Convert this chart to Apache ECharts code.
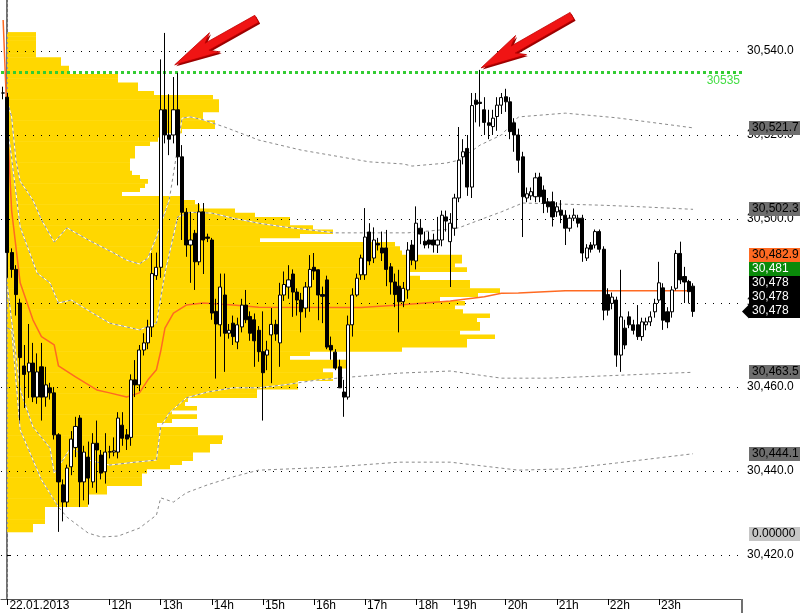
<!DOCTYPE html>
<html><head><meta charset="utf-8">
<script src="https://cdn.jsdelivr.net/npm/echarts@6/dist/echarts.min.js"></script>
<style>html,body{margin:0;padding:0;background:#fff}#c{width:800px;height:613px}</style>
</head><body><div id="c"></div>
<script>
// ---------- DATA ----------
// session structure (hour, number of 5-minute bars shown)
const sessionHours = [[10,12],[11,12],[12,12],[13,12],[14,12],[15,12],[16,12],[17,12],[18,9],[19,12],[20,12],[21,12],[22,12],[23,12],[0,8]];
const firstBarLabel = '09:55';
// x axis tick labels (category -> text)
const xTickCategories = ['10:00','12:00','13:00','14:00','15:00','16:00','17:00','18:00','19:00','20:00','21:00','22:00','23:00'];
const xTickLabels     = ['22.01.2013','12h','13h','14h','15h','16h','17h','18h','19h','20h','21h','22h','23h'];
// y axis tick values
const yTickValues = [30420, 30440, 30460, 30480, 30500, 30520, 30540];
const yMin = 30409.52, yMax = 30552.14;

// candles: [open, close, low, high]
const candles = [
[30530,30530,30528.5,30531.5],[30529,30492,30486,30530],[30492,30488,30486,30493],[30488,30482,30477,30489],
[30480,30467,30452,30481],[30465,30463,30455,30470],[30463.6,30465.7,30457.4,30475],[30465.7,30457.6,30456.4,30470.5],
[30457.6,30463.6,30456,30468],[30464.8,30457.6,30452,30470.5],[30457.6,30460.5,30455.3,30464.8],[30459.8,30458.6,30457,30461],
[30458.6,30448.6,30447.5,30460],[30448.6,30437.4,30425.5,30449],[30436.7,30432.6,30428,30438],[30432.6,30440.7,30431.4,30441.5],
[30441,30447.6,30439,30449.5],[30445.6,30450.6,30443.3,30452.9],[30452.6,30437.4,30431.4,30453.3],[30437.4,30444.5,30433,30446],
[30443.3,30438.3,30432,30447],[30437.4,30446.6,30436,30449],[30446.6,30445,30434.8,30452],[30443.8,30439.5,30438,30445],
[30439.8,30444.5,30437,30449],[30444.5,30444.6,30443,30446],[30444.5,30444.8,30443.5,30448],[30444.5,30452.6,30443,30454],
[30450.9,30447.8,30446,30454],[30448.6,30447.6,30445,30450],[30448,30461.7,30446,30463],[30461.7,30460.5,30457.6,30466.4],
[30460.5,30468.8,30459,30470],[30468.8,30470.5,30467.5,30472.8],[30470.5,30474.3,30469,30476],[30474.3,30487,30471.9,30491.9],
[30486.5,30488.5,30485.5,30492],[30488.5,30526,30486,30538],[30526,30520,30518,30544.3],[30520,30519,30515.2,30529.7],
[30520,30526,30518,30533.8],[30526,30514.8,30508,30534.8],[30514.8,30501.6,30495,30517.6],[30501.6,30493.8,30491,30502.6],
[30493.8,30495,30484.8,30501.7],[30496.6,30489.8,30483.1,30497.4],[30489.8,30501.7,30489,30503.8],[30501.7,30495,30486.9,30503.8],
[30495.7,30495.4,30494.5,30496.5],[30495,30477.6,30476,30495.5],[30478,30475,30462,30481],[30474.8,30483.8,30472,30487],
[30481.9,30472.8,30463.6,30487],[30472.8,30473.5,30471.5,30475],[30475.2,30472,30470,30477],[30470.7,30474.8,30469,30476.5],
[30474.3,30479.5,30473,30481],[30479.5,30476,30475.2,30483.1],[30476.8,30472.8,30471,30478],[30476,30471,30464.8,30477.5],
[30473.5,30468.4,30466,30474.5],[30468.4,30463.4,30452,30478],[30467.6,30468.8,30464,30471],[30472.4,30474.9,30460.9,30478.8],
[30474.9,30472.6,30471,30476],[30470.5,30481.9,30464.8,30484.8],[30481.9,30484.4,30480.5,30487.5],[30483.8,30485.5,30481,30489],
[30486.9,30482.6,30476.7,30488],[30482.6,30480.7,30477,30483.5],[30480.7,30477.9,30473,30482.4],[30478.8,30483.8,30476.5,30485],
[30483.8,30488,30477.9,30491.4],[30488.5,30487.6,30485.5,30491.9],[30487.9,30481.9,30475.9,30488],[30482,30481.6,30475.2,30483.9],
[30485.5,30469.5,30469,30486.5],[30469.9,30468.8,30466.5,30472],[30468.3,30464.5,30464,30469],[30464.8,30459.8,30459.8,30466.5],
[30458.8,30457.6,30452.9,30461.7],[30457.6,30474.8,30457,30477],[30474.8,30481.9,30472,30483.5],[30481.9,30485.9,30481.5,30487],
[30486.7,30490.7,30485.5,30491.5],[30486.7,30495.7,30485.5,30502.6],[30496.9,30490,30489,30499],[30490.7,30495,30489.5,30498],
[30494.2,30493.8,30492.5,30495.5],[30493.1,30491.9,30490,30497],[30493.1,30488,30484,30497.4],[30488.6,30485,30482,30489.5],
[30485,30482,30479,30487],[30484,30480.3,30473,30487.9],[30480.3,30483.5,30479,30485],[30483.1,30492.6,30481,30494.5],
[30493.8,30490.2,30489,30495],[30490,30499,30488,30503],[30497.8,30496.4,30494,30500],[30494.7,30493.8,30493,30497],
[30495,30494,30493,30497],[30495,30493.8,30492,30496.5],[30493.8,30495,30491.9,30500.5],[30495,30500.9,30493.5,30502],
[30500.5,30499.5,30497,30502],[30494.6,30499,30483.8,30501.4],[30497.8,30505,30496,30506],[30505,30514,30504,30521.9],
[30514.8,30516,30513,30519],[30516.8,30507.6,30505.5,30520],[30507.6,30527,30505,30530],[30528.3,30527.3,30523,30530],
[30527.8,30527.5,30522,30535.5],[30526,30523,30520,30529],[30522.9,30522.3,30519,30526],[30522,30524,30520,30526],
[30524.4,30527.1,30521,30529],[30527.1,30528.9,30525,30530],[30529.1,30527.9,30525.5,30531],[30527.9,30520.8,30519,30529],
[30522.9,30520,30516,30524],[30520,30514,30511,30521.5],[30514.8,30505.3,30495.7,30516],[30505,30506,30504,30507.5],
[30505.5,30506.5,30504.5,30507.5],[30505.3,30509.8,30504,30511],[30510,30505.3,30504,30511],[30506.9,30503.7,30501.4,30508],
[30504.1,30502.9,30501.5,30505],[30504.1,30500.5,30498.2,30506.5],[30501.7,30502.9,30500.5,30504],[30502.1,30500.9,30499,30504.5],
[30500.9,30497.8,30493.8,30502.1],[30497.8,30500.2,30497,30501],[30500.2,30500.9,30499.5,30502.5],[30500.2,30499,30498,30501],
[30500.2,30491.9,30489.8,30501],[30490.7,30493.1,30490,30494],[30493.8,30492.8,30492,30494.5],[30493.8,30497,30493,30497.5],
[30497,30492.8,30492,30497.5],[30492.8,30478.3,30475.9,30493.5],[30482,30478.3,30477,30483.5],[30479.9,30481.4,30478.5,30482.5],
[30480.7,30467.6,30464.8,30481.5],[30467.6,30476.7,30463.6,30487.9],[30474,30470,30469,30476],[30476.7,30474.8,30474,30478],
[30474.8,30473.5,30472.5,30476],[30474.8,30472,30471.2,30479.5],[30472,30475.5,30471,30476.5],[30474.8,30475.5,30473.5,30476.5],
[30475.5,30476.7,30474.5,30478],[30477.9,30479.9,30476.5,30481],[30480.7,30484.8,30480,30489.8],[30483.6,30475.9,30473.6,30484.7],
[30477.9,30475.5,30474,30479],[30477.9,30483.1,30476.5,30484],[30483.5,30491.8,30483,30492.6],[30491.8,30485.5,30484.5,30494.6],
[30486.3,30485,30480,30488.6],[30485.1,30482.7,30479.9,30485.5],[30484,30478,30476.7,30484.7]
];

// VWAP and deviation bands: [bar index, price]
const vwapPoints = [[0,30547.4],[1,30522],[2,30502],[4,30484.8],[7,30476],[9,30472],[12,30470],[13,30465],[17,30462.4],[22,30459.3],[25,30458.6],[29,30457.6],[32,30458.6],[34,30461.7],[36,30464.1],[37,30468.5],[38,30474],[40,30477.6],[43,30479.5],[47,30480],[54,30479.5],[60,30479],[84,30478.9],[93,30479.5],[105,30480.5],[113,30481.5],[117,30482.3],[121,30482.4],[132,30482.9],[162,30482.9]];
const upper2Points = [[1,30528],[2,30524.3],[3,30514],[4,30509],[7,30504.5],[9,30499.8],[12,30494.5],[15,30497.9],[20,30495],[26,30491.9],[29,30490.2],[32,30489.3],[34,30490.7],[36,30495.7],[39,30504.5],[41,30517.1],[42,30524],[44,30524.3],[47,30523.6],[52,30521.9],[60,30518.8],[70,30516.4],[86,30513.6],[94,30513.1],[96,30512.6],[104,30513.3],[107,30514],[112,30517.6],[117,30520],[121,30524.3],[132,30525.2],[144,30524.1],[162,30521.7]];
const upper1Points = [[1,30522],[2,30514.5],[4,30498.1],[8,30487.1],[11,30484.8],[13,30480],[16,30480.7],[21,30477.6],[25,30475.2],[29,30474.3],[32,30473.6],[36,30475.2],[38,30487.1],[41,30500.5],[44,30501.6],[49,30501.4],[54,30500.2],[60,30499],[66,30498.1],[78,30496.7],[95,30496.7],[105,30497.6],[107,30497.9],[113,30500.2],[117,30501.7],[122,30503.8],[140,30503.3],[150,30502.9],[162,30502.3]];
const lower1Points = [[1,30484],[4,30459.3],[7,30450.5],[11,30445.5],[12,30439.5],[16,30445.7],[20,30442.6],[25,30441.4],[31,30442.1],[36,30442.6],[37,30450.5],[39,30453.8],[43,30457.4],[48,30458.8],[54,30459.8],[60,30459.8],[66,30460.5],[74,30461.7],[82,30462.4],[93,30463.3],[105,30463.8],[117,30462.1],[128,30462.1],[162,30463.5]];
const lower2Points = [[1,30474],[2,30473.6],[4,30449.8],[9,30437.9],[13,30431.4],[15,30429],[20,30425.2],[23,30424.3],[27,30424.5],[32,30426.4],[36,30429.5],[37,30433.6],[40,30432.6],[43,30434.8],[48,30436.7],[54,30438.6],[60,30440.2],[77,30440.9],[93,30442.1],[105,30442.1],[121,30440.2],[132,30440.5],[144,30441.9],[162,30444.1]];

// volume profile: one value per 1-point price level, from profileTopPrice downward
const profileTopPrice = 30544;
const profileVolume = [29,29,29,29,29,29,54,54,62,62,111,111,131,131,147,206,212,212,212,196,196,208,208,175,153,151,143,128,128,128,123,123,123,125,133,141,138,133,115,173,188,193,228,248,283,283,306,326,293,253,388,393,395,455,455,448,460,403,413,463,463,493,471,433,458,448,456,483,470,473,473,453,488,460,460,395,303,283,340,340,316,326,326,291,291,250,250,181,178,190,165,190,165,150,191,191,216,215,203,203,186,186,175,163,140,135,135,135,100,100,81,81,81,38,38,38,38,26,26];

// reference level
const keyLevel = 30535;
// right-hand price tags
const bandTags = [
  {value: 30521.7, text: '30,521.7', bg: '#6e6e6e', fg: '#000'},
  {value: 30502.3, text: '30,502.3', bg: '#6e6e6e', fg: '#000'},
  {value: 30463.5, text: '30,463.5', bg: '#6e6e6e', fg: '#000'},
  {value: 30444.1, text: '30,444.1', bg: '#6e6e6e', fg: '#000'},
  {value: 30425.0, text: '0.00000', bg: '#c6c6c6', fg: '#000'}
];
const lastPrice = 30478;
const stackedTags = [ // from the last price upward
  {text: '30,478', bg: '#000', fg: '#fff', pointer: true},
  {text: '30,478', bg: '#000', fg: '#fff'},
  {text: '30,478', bg: '#000', fg: '#fff'},
  {text: '30,481', bg: '#0a8a0a', fg: '#fff'},
  {text: '30,482.9', bg: '#ff6a22', fg: '#000'}
];
// arrows point at these bars' highs
const arrowBars = [41, 112];

// ---------- BUILD ----------
const categories = [firstBarLabel];
sessionHours.forEach(([h, n]) => { for (let k = 0; k < n; k++) categories.push(String(h).padStart(2,'0') + ':' + String(k*5).padStart(2,'0')); });
const xLabelMap = {}; xTickCategories.forEach((c, i) => xLabelMap[c] = xTickLabels[i]);
const isTick = (idx, val) => xLabelMap[val] !== undefined;
const profileData = profileVolume.map((v, k) => [v, profileTopPrice - k]);
const fmt1 = v => Number(v).toLocaleString('en-US', {minimumFractionDigits: 1, maximumFractionDigits: 1});
const FONT = 'Liberation Sans, Arial, sans-serif';

function bandSeries(pts) {
  return [
    {type: 'line', data: pts, symbol: 'none', silent: true, z: 3, lineStyle: {color: '#ffffff', width: 1}},
    {type: 'line', data: pts, symbol: 'none', silent: true, z: 3, lineStyle: {color: '#8a8a8a', width: 1, type: [3, 3]}}
  ];
}

const chart = echarts.init(document.getElementById('c'), null, {renderer: 'canvas'});
const option = {
  animation: false,
  backgroundColor: '#ffffff',
  textStyle: {fontFamily: FONT},
  grid: {left: 1, right: 58, top: 0, bottom: 14},
  xAxis: [
    {type: 'category', data: categories, boundaryGap: true,
     axisLine: {show: true, onZero: false, lineStyle: {color: '#555', width: 1}},
     axisTick: {show: true, interval: isTick, alignWithLabel: true, length: 6, lineStyle: {color: '#000'}},
     axisLabel: {show: true, interval: isTick, formatter: v => xLabelMap[v] || '', align: 'left', margin: 1,
                 padding: [0, 0, 0, 2], color: '#000', fontSize: 12, fontFamily: FONT, hideOverlap: false},
     splitLine: {show: false}},
    {type: 'value', min: -6, max: 735, show: false}
  ],
  yAxis: {type: 'value', position: 'right', min: yMin, max: yMax, scale: true,
    axisLine: {show: true, lineStyle: {color: '#707070', width: 2}},
    axisTick: {show: true, customValues: yTickValues, length: 4, lineStyle: {color: '#000'}},
    axisLabel: {show: true, customValues: yTickValues, formatter: fmt1, color: '#000', fontSize: 12, fontFamily: FONT, margin: 5},
    splitLine: {show: false}},
  series: [
    {type: 'custom', name: 'profile', xAxisIndex: 1, yAxisIndex: 0, data: profileData, z: 1, silent: true,
     encode: {x: 0, y: 1},
     renderItem: (params, api) => {
       const v = api.value(0), p = api.value(1);
       const a = api.coord([0, p + 0.5]);
       const b = api.coord([v, p - 0.5]);
       return {type: 'rect', shape: {x: a[0], y: a[1], width: b[0] - a[0], height: b[1] - a[1] + 0.4}, style: {fill: '#FFD700'}};
     }},
    {type: 'line', name: 'levels', data: [], z: 2, silent: true,
     markLine: {silent: true, symbol: ['none', 'none'], animation: false,
       data: [
         ...yTickValues.map(v => ({yAxis: v, lineStyle: {color: '#000', type: [1, 7], width: 1}, label: {show: false}})),
         {xAxis: '10:00', lineStyle: {color: '#999', type: [2, 3], width: 1}, label: {show: false}},
         {yAxis: keyLevel, lineStyle: {color: '#33cc33', type: [3, 3], width: 3},
          label: {show: true, formatter: String(keyLevel), position: 'insideEndBottom', color: '#44dd44', fontSize: 12, fontFamily: FONT, distance: [2, 3]}}
       ]}},
    ...bandSeries(upper2Points), ...bandSeries(upper1Points), ...bandSeries(lower1Points), ...bandSeries(lower2Points),
    {type: 'line', name: 'vwap', data: vwapPoints, symbol: 'none', silent: true, z: 4, lineStyle: {color: '#ff6a22', width: 1.5}},
    {type: 'candlestick', name: 'price', data: candles, barWidth: 3.6, z: 6, silent: true,
     itemStyle: {color: '#ffffff', color0: '#000000', borderColor: '#000000', borderColor0: '#000000', borderWidth: 1}}
  ]
};
chart.setOption(option);

// ---------- annotations anchored to the scales ----------
const candleSeriesIndex = option.series.length - 1;
const g = [];
const yBottom = chart.convertToPixel({yAxisIndex: 0}, yMin);
g.push({type: 'line', z: 100, shape: {x1: 742, y1: yBottom, x2: 742, y2: 613}, style: {stroke: '#707070', lineWidth: 2}});
function tag(y, t) {
  g.push({type: 'rect', z: 101, shape: {x: 749, y: Math.round(y) - 7, width: 51, height: 14}, style: {fill: t.bg}});
  g.push({type: 'text', z: 102, style: {text: t.text, x: 752, y: Math.round(y), fill: t.fg, font: '12px ' + FONT, verticalAlign: 'middle', align: 'left'}});
  if (t.pointer) g.push({type: 'polygon', z: 101, shape: {points: [[742, y], [749, y - 7], [749, y + 7]]}, style: {fill: t.bg}});
}
bandTags.forEach(t => tag(chart.convertToPixel({yAxisIndex: 0}, t.value), t));
const yLast = chart.convertToPixel({yAxisIndex: 0}, lastPrice);
stackedTags.forEach((t, k) => tag(yLast - 14 * k, t));

function arrowPoly(tip, tail, headLen, headHalf, shaftHalf) {
  const dx = tail[0] - tip[0], dy = tail[1] - tip[1], L = Math.hypot(dx, dy);
  const ux = dx / L, uy = dy / L, nx = -uy, ny = ux;
  const bx = tip[0] + ux * headLen, by = tip[1] + uy * headLen;
  const cx = tip[0] + ux * (headLen - 9), cy = tip[1] + uy * (headLen - 9);
  return [tip, [bx + nx * headHalf, by + ny * headHalf], [cx + nx * shaftHalf, cy + ny * shaftHalf],
          [tail[0] + nx * shaftHalf, tail[1] + ny * shaftHalf], [tail[0] - nx * shaftHalf, tail[1] - ny * shaftHalf],
          [cx - nx * shaftHalf, cy - ny * shaftHalf], [bx - nx * headHalf, by - ny * headHalf]];
}
const arrowGeom = [{dx: -3, dy: -8, tx: 82, ty: -46}, {dx: 1, dy: -2, tx: 91, ty: -52}];
arrowBars.forEach((bi, k) => {
  const p = chart.convertToPixel({seriesIndex: candleSeriesIndex}, [bi, candles[bi][3]]);
  const a = arrowGeom[k];
  const tip = [p[0] + a.dx, p[1] + a.dy];
  const tail = [tip[0] + a.tx, tip[1] + a.ty];
  g.push({type: 'polygon', z: 103, shape: {points: arrowPoly([tip[0] + 1.5, tip[1] + 1.5], [tail[0] + 1.5, tail[1] + 1.5], 46, 11, 4)}, style: {fill: '#9a0000'}});
  g.push({type: 'polygon', z: 104, shape: {points: arrowPoly(tip, tail, 46, 11, 4)}, style: {fill: '#f01414', stroke: '#c00000', lineWidth: 0.8}});
});
chart.setOption({graphic: g});
</script></body></html>
